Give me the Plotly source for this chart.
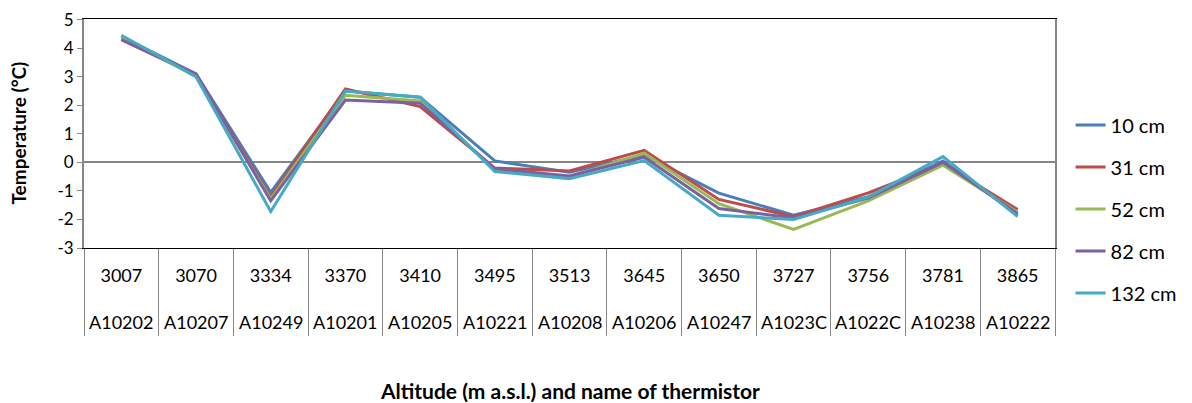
import plotly.graph_objects as go

altitudes = ["3007", "3070", "3334", "3370", "3410", "3495", "3513",
             "3645", "3650", "3727", "3756", "3781", "3865"]
thermistors = ["A10202", "A10207", "A10249", "A10201", "A10205", "A10221", "A10208",
               "A10206", "A10247", "A1023C", "A1022C", "A10238", "A10222"]

t_10 = [4.40, 3.10, -1.05, 2.50, 2.28, 0.05, -0.35, 0.25, -1.08, -1.85, -1.20, 0.05, -1.85]
t_31 = [4.30, 3.05, -1.22, 2.57, 1.95, -0.20, -0.30, 0.42, -1.30, -1.90, -1.07, -0.05, -1.65]
t_52 = [4.40, 3.00, -1.28, 2.35, 2.15, -0.25, -0.50, 0.32, -1.45, -2.35, -1.35, -0.10, -1.75]
t_82 = [4.30, 3.10, -1.35, 2.18, 2.07, -0.22, -0.48, 0.18, -1.62, -1.95, -1.25, 0.00, -1.80]
t_132 = [4.45, 3.00, -1.72, 2.50, 2.28, -0.32, -0.57, 0.06, -1.85, -2.00, -1.22, 0.20, -1.90]

y_ticks = [-3, -2, -1, 0, 1, 2, 3, 4, 5]

series = [
    ("10 cm", t_10, "#4A7EBB"),
    ("31 cm", t_31, "#BE4B48"),
    ("52 cm", t_52, "#98B954"),
    ("82 cm", t_82, "#7D60A0"),
    ("132 cm", t_132, "#46AAC5"),
]

FONT = "Lato, 'Open Sans', sans-serif"

fig = go.Figure()

for name, vals, color in series:
    fig.add_trace(go.Scatter(
        x=altitudes,
        y=vals,
        name=name,
        legendgroup=name,
        mode="lines",
        line=dict(color=color, width=3)
    ))

# second row of the category table: thermistor names (x = category index)
for i, th in enumerate(thermistors):
    fig.add_annotation(
        x=i, xref="x", y=0, yref="paper",
        yshift=-74, yanchor="middle", showarrow=False,
        text=th, font=dict(size=18, color="#000000", family=FONT)
    )

fig.add_annotation(
    x=0.5, xref="paper", y=0, yref="paper", yshift=-142, yanchor="middle",
    showarrow=False, text="<b>Altitude (m a.s.l.) and name of thermistor</b>",
    font=dict(size=21, color="#000000", family=FONT)
)
fig.add_annotation(
    x=0, xref="paper", xshift=-66, xanchor="center",
    y=0.5, yref="paper", yanchor="middle", textangle=-90,
    showarrow=False, text="<b>Temperature (°C)</b>",
    font=dict(size=19, color="#000000", family=FONT)
)

# the page body adds an 8px margin, so the figure is 8px smaller than the window
fig.update_layout(
    width=1184,
    height=395,
    margin=dict(l=76, r=137, t=11, b=155, autoexpand=False),
    paper_bgcolor="white",
    plot_bgcolor="white",
    font=dict(family=FONT, size=16, color="#000000"),
    showlegend=True,
    legend=dict(
        x=1.016, xanchor="left", y=0.17, yanchor="middle",
        tracegroupgap=13, font=dict(size=20),
        bgcolor="rgba(0,0,0,0)"
    ),
    xaxis=dict(
        type="category",
        categoryorder="array", categoryarray=altitudes,
        range=[-0.5, len(altitudes) - 0.5],
        showgrid=False,
        zeroline=False,
        showline=True, linecolor="#000000", linewidth=1, mirror=True,
        ticks="outside", tickson="boundaries", ticklen=87,
        tickcolor="#868686", tickwidth=1,
        tickangle=0,
        ticklabelstandoff=11,
        tickfont=dict(size=18, family=FONT)
    ),
    yaxis=dict(
        range=[-3, 5.02],
        tickmode="array", tickvals=y_ticks,
        ticktext=[str(v) for v in y_ticks],
        showgrid=False,
        zeroline=True, zerolinecolor="#868686", zerolinewidth=2,
        showline=True, linecolor="#868686", linewidth=2, mirror=True,
        ticks="outside", ticklen=5, tickcolor="#868686",
        tickfont=dict(size=17, family=FONT)
    ),
)

fig.write_html("out.html")
